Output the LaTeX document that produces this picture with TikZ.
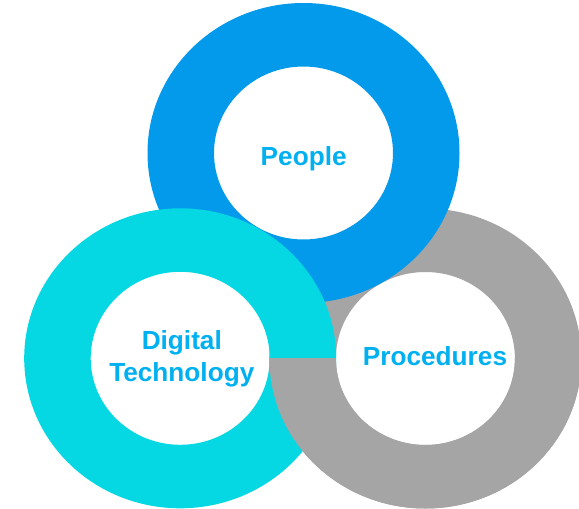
\documentclass[tikz,border=0pt]{standalone}
\usepackage{fontspec}
\setmainfont{Liberation Sans}
\definecolor{ringblue}{RGB}{3,154,235}
\definecolor{ringcyan}{RGB}{5,216,226}
\definecolor{ringgray}{RGB}{165,165,165}
\definecolor{txtblue}{RGB}{0,176,240}
\begin{document}
\begin{tikzpicture}[x=1pt,y=-1pt,
  ring/.style={even odd rule},
  lbl/.style={text=txtblue, font=\fontsize{26.2}{32.7}\selectfont\bfseries, align=center, inner sep=0pt}]
\useasboundingbox[fill=white] (0,0) rectangle (579,509);
\coordinate (cp) at (303.5,153);
\coordinate (cd) at (180.2,358.3);
\coordinate (cq) at (425.4,358.5);
\newcommand\ringpath[1]{(#1) ellipse[x radius=156pt,y radius=150pt] (#1) ellipse[x radius=89.5pt,y radius=86.5pt]}
% gray ring (full)
\fill[ringgray, ring] \ringpath{cq};
% blue ring
\fill[ringblue, ring] \ringpath{cp};
% cyan ring
\fill[ringcyan, ring] \ringpath{cd};
% lower half of gray ring over the cyan one
\begin{scope}
  \clip (0,358) rectangle (579,509);
  \fill[ringgray, ring] \ringpath{cq};
\end{scope}
\node[lbl, anchor=base] (people) at (303.7,165.7) {People};
\node[lbl, anchor=base] (proc) at (435,365) {Procedures};
\node[lbl, anchor=base] (digi) at (181.8,381.7) {Digital\\Technology};
\end{tikzpicture}
\end{document}
